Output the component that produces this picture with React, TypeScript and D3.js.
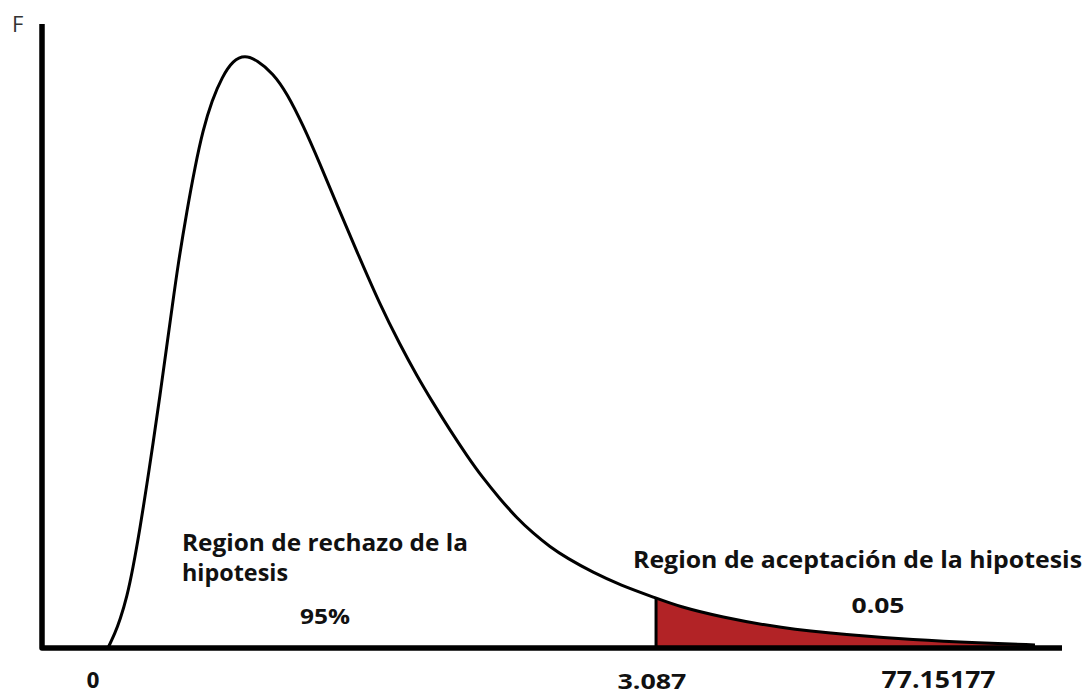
import React from "react";
import * as d3 from "d3";

// Density curve (abstract units: x 0..100, y 0..100)
const curveX = [6.47, 7.16, 7.65, 8.33, 8.92, 9.61, 10.29, 10.88, 11.57, 12.25, 12.75, 13.33, 14.22, 15.0, 15.78, 16.67, 17.65, 18.73, 19.9, 21.08, 22.65, 24.02, 25.59, 27.25, 28.92, 30.88, 33.14, 35.1, 36.76, 38.33, 40.0, 41.67, 43.24, 44.9, 46.57, 48.14, 49.8, 51.47, 54.02, 56.67, 60.2, 62.55, 66.47, 72.35, 78.92, 85.39, 91.96, 97.35];
const curveY = [0, 2.4, 4.5, 8.2, 12.8, 19.2, 26.3, 32.7, 40.5, 48.6, 54.5, 61.4, 70.2, 77.1, 83.0, 87.8, 91.5, 94.2, 95.0, 94.2, 92.1, 88.9, 83.8, 77.6, 71.0, 63.5, 55.0, 48.6, 43.6, 39.3, 34.9, 30.8, 27.2, 23.9, 20.8, 18.4, 16.2, 14.4, 12.1, 10.1, 8.0, 6.6, 5.0, 3.2, 2.1, 1.3, 0.8, 0.5];

const criticalX = 60.2;

const tickLabels = ["0", "3.087", "77.15177"];
const tickPos = [5.0, 59.8, 87.9];

const W = 1086;
const H = 695;

export default function App() {
  const x = d3.scaleLinear().domain([0, 100]).range([42, 1062]);
  const y = d3.scaleLinear().domain([0, 100]).range([648, 24]);

  const pts: [number, number][] = curveX.map((v, i) => [v, curveY[i]]);
  const line = d3
    .line<[number, number]>()
    .x((d) => x(d[0]))
    .y((d) => y(d[1]))
    .curve(d3.curveBasis);

  const tail = pts.filter((d) => d[0] >= criticalX);
  const area = d3
    .area<[number, number]>()
    .x((d) => x(d[0]))
    .y0(y(0))
    .y1((d) => y(d[1]))
    .curve(d3.curveBasis);

  const critY = curveY[curveX.indexOf(criticalX)];

  const boldFont = "'Open Sans', 'DejaVu Sans', sans-serif";

  return (
    <svg
      width={W}
      height={H}
      style={{ position: "absolute", left: 0, top: 0, background: "#fff" }}
    >
      <rect x={0} y={0} width={W} height={H} fill="#fff" />
      {/* red tail */}
      <path d={area(tail) || ""} fill="#b22326" />
      {/* curve */}
      <path d={line(pts) || ""} fill="none" stroke="#000" strokeWidth={3} />
      {/* critical value line */}
      <line
        x1={x(criticalX)}
        x2={x(criticalX)}
        y1={y(0)}
        y2={y(critY)}
        stroke="#000"
        strokeWidth={3}
      />
      {/* axes */}
      <path
        d={`M${x(0)},${y(100)} V${y(0)} H${x(100)}`}
        fill="none"
        stroke="#000"
        strokeWidth={5.5}
        strokeLinejoin="round"
      />
      {/* axis title */}
      <text
        x={12}
        y={32}
        fontFamily="'Open Sans', sans-serif"
        fontSize={22}
        fill="#333"
      >
        F
      </text>
      {/* tick labels */}
      <text
        x={x(tickPos[0])}
        y={688}
        textAnchor="middle"
        fontFamily="'Liberation Sans Narrow', 'DejaVu Sans Condensed', sans-serif"
        fontWeight="bold"
        fontSize={21}
        fill="#111"
        textLength={13}
        lengthAdjust="spacingAndGlyphs"
      >
        {tickLabels[0]}
      </text>
      <text
        x={x(tickPos[1])}
        y={689}
        textAnchor="middle"
        fontFamily={boldFont}
        fontWeight="bold"
        fontSize={22}
        fill="#111"
        textLength={69}
        lengthAdjust="spacingAndGlyphs"
      >
        {tickLabels[1]}
      </text>
      <text
        x={x(tickPos[2])}
        y={688}
        textAnchor="middle"
        fontFamily={boldFont}
        fontWeight="bold"
        fontSize={23}
        fill="#111"
        textLength={114}
        lengthAdjust="spacingAndGlyphs"
      >
        {tickLabels[2]}
      </text>
      {/* annotations */}
      <text
        x={182}
        y={551}
        fontFamily={boldFont}
        fontWeight="bold"
        fontSize={23}
        fill="#111"
        textLength={286}
        lengthAdjust="spacingAndGlyphs"
      >
        Region de rechazo de la
      </text>
      <text
        x={182}
        y={581}
        fontFamily={boldFont}
        fontWeight="bold"
        fontSize={23}
        fill="#111"
        textLength={106}
        lengthAdjust="spacingAndGlyphs"
      >
        hipotesis
      </text>
      <text
        x={325}
        y={624}
        textAnchor="middle"
        fontFamily={boldFont}
        fontWeight="bold"
        fontSize={21}
        fill="#111"
        textLength={50}
        lengthAdjust="spacingAndGlyphs"
      >
        95%
      </text>
      <text
        x={633}
        y={568}
        fontFamily={boldFont}
        fontWeight="bold"
        fontSize={24}
        fill="#111"
        textLength={449}
        lengthAdjust="spacingAndGlyphs"
      >
        Region de aceptación de la hipotesis
      </text>
      <text
        x={878}
        y={613}
        textAnchor="middle"
        fontFamily={boldFont}
        fontWeight="bold"
        fontSize={21}
        fill="#111"
        textLength={53}
        lengthAdjust="spacingAndGlyphs"
      >
        0.05
      </text>
    </svg>
  );
}
